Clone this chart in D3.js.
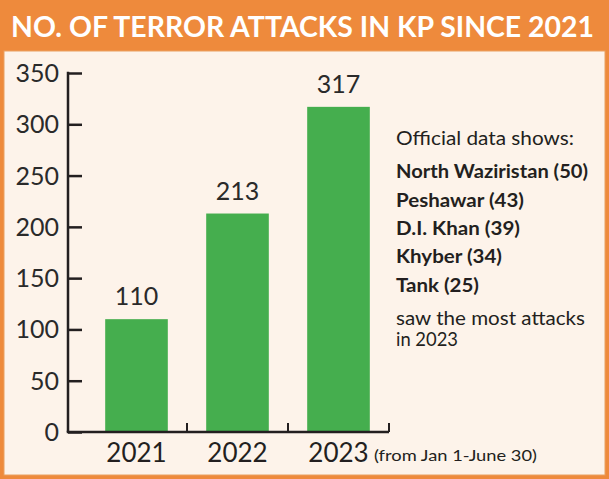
<!DOCTYPE html>
<html><head><meta charset="utf-8">
<script src="https://cdn.jsdelivr.net/npm/d3@7"></script>
<style>html,body{margin:0;padding:0;background:#EE8A3C;}svg{display:block;}</style>
</head><body>
<script>
const title = "NO. OF TERROR ATTACKS IN KP SINCE 2021";
const years = ["2021", "2022", "2023"];
const attacks = [110, 213, 317];
const yTicks = [0, 50, 100, 150, 200, 250, 300, 350];
const yearNote = "(from Jan 1-June 30)";
const noteIntro = "Official data shows:";
const districts = ["North Waziristan", "Peshawar", "D.I. Khan", "Khyber", "Tank"];
const districtCounts = [50, 43, 39, 34, 25];
const noteOutro = ["saw the most attacks", "in 2023"];

const W = 609, H = 479;
const orange = "#EE8A3C", cream = "#FDF3EA", green = "#45AE4E", ink = "#231F20";
const font = "Lato, 'Open Sans', sans-serif";

const svg = d3.select("body").append("svg").attr("width", W).attr("height", H);
svg.append("rect").attr("width", W).attr("height", H).attr("fill", orange);
svg.append("rect").attr("x", 4).attr("y", 51).attr("width", 601).attr("height", 424)
  .attr("fill", cream).attr("stroke", "#E9A060").attr("stroke-width", 1);

svg.append("text").attr("x", 11).attr("y", 37).attr("fill", "#fff")
  .attr("font-family", font).attr("font-weight", "bold").attr("font-size", 28.5)
  .attr("textLength", 583).attr("lengthAdjust", "spacingAndGlyphs").text(title);

const y = d3.scaleLinear().domain([0, 350]).range([432, 73]);
const x = d3.scaleBand().domain(years).range([86, 389]).paddingInner(0.38).paddingOuter(0.19);
const axisLeft = 68;

// y axis
const yAxis = d3.axisRight(y).tickValues(yTicks).tickSize(14).tickFormat("");
const gy = svg.append("g").attr("transform", `translate(${axisLeft},0)`).call(yAxis);
gy.select(".domain").remove();
gy.selectAll(".tick line").attr("stroke", ink).attr("stroke-width", 2.5);
svg.append("line").attr("x1", axisLeft).attr("x2", axisLeft).attr("y1", y(350) - 1.25).attr("y2", y(0))
  .attr("stroke", ink).attr("stroke-width", 2.5);
svg.selectAll(".ylab").data(yTicks).join("text").attr("class", "ylab")
  .attr("x", 59).attr("y", d => y(d) + 9).attr("text-anchor", "end")
  .attr("font-family", font).attr("font-size", 25).attr("fill", "#2a2a2a").text(d => d);

// bars
svg.selectAll(".bar").data(attacks).join("rect").attr("class", "bar")
  .attr("x", (d, i) => x(years[i])).attr("width", x.bandwidth())
  .attr("y", d => y(d)).attr("height", d => y(0) - y(d)).attr("fill", green);

svg.selectAll(".vlab").data(attacks).join("text").attr("class", "vlab")
  .attr("x", (d, i) => x(years[i]) + x.bandwidth() / 2).attr("y", d => y(d) - 14)
  .attr("text-anchor", "middle").attr("font-family", font).attr("font-size", 25)
  .attr("fill", "#2a2a2a").text(d => d);

// x axis
const gap = x.step() * x.paddingInner() / 2;
const xEnd = x(years[years.length - 1]) + x.bandwidth() + gap;
svg.append("line").attr("x1", axisLeft - 1.25).attr("x2", xEnd).attr("y1", y(0)).attr("y2", y(0))
  .attr("stroke", ink).attr("stroke-width", 2.5);
const tickXs = years.slice(1).map(d => x(d) - gap).concat([xEnd]);
svg.selectAll(".xt").data(tickXs).join("line").attr("class", "xt")
  .attr("x1", d => d).attr("x2", d => d).attr("y1", y(0)).attr("y2", y(0) - 9)
  .attr("stroke", ink).attr("stroke-width", 2);
svg.selectAll(".xlab").data(years).join("text").attr("class", "xlab")
  .attr("x", d => x(d) + x.bandwidth() / 2).attr("y", 462).attr("text-anchor", "middle")
  .attr("font-family", font).attr("font-size", 26).attr("fill", ink).text(d => d);
svg.append("text").attr("x", 374).attr("y", 461).attr("font-family", font).attr("font-size", 16)
  .attr("fill", ink).attr("textLength", 163).attr("lengthAdjust", "spacingAndGlyphs").text(yearNote);

// side note
svg.append("text").attr("x", 396).attr("y", 145).attr("font-family", font).attr("font-size", 19.5)
  .attr("fill", ink).attr("textLength", 178).attr("lengthAdjust", "spacingAndGlyphs").text(noteIntro);
const lineYs = [178, 207, 235, 263, 292];
const distWidths = [192, 128, 124, 106, 83];
svg.selectAll(".dist").data(districts).join("text").attr("class", "dist")
  .attr("x", 396).attr("y", (d, i) => lineYs[i]).attr("font-family", font)
  .attr("font-weight", "bold").attr("font-size", 18.5).attr("fill", ink)
  .attr("textLength", (d, i) => distWidths[i]).attr("lengthAdjust", "spacingAndGlyphs")
  .text((d, i) => `${d} (${districtCounts[i]})`);
const outroWidths = [189, 62];
svg.selectAll(".outro").data(noteOutro).join("text").attr("class", "outro")
  .attr("x", 396).attr("y", (d, i) => 325 + i * 21).attr("font-family", font)
  .attr("font-size", 18.5).attr("fill", ink)
  .attr("textLength", (d, i) => outroWidths[i]).attr("lengthAdjust", "spacingAndGlyphs").text(d => d);
</script>
</body></html>
